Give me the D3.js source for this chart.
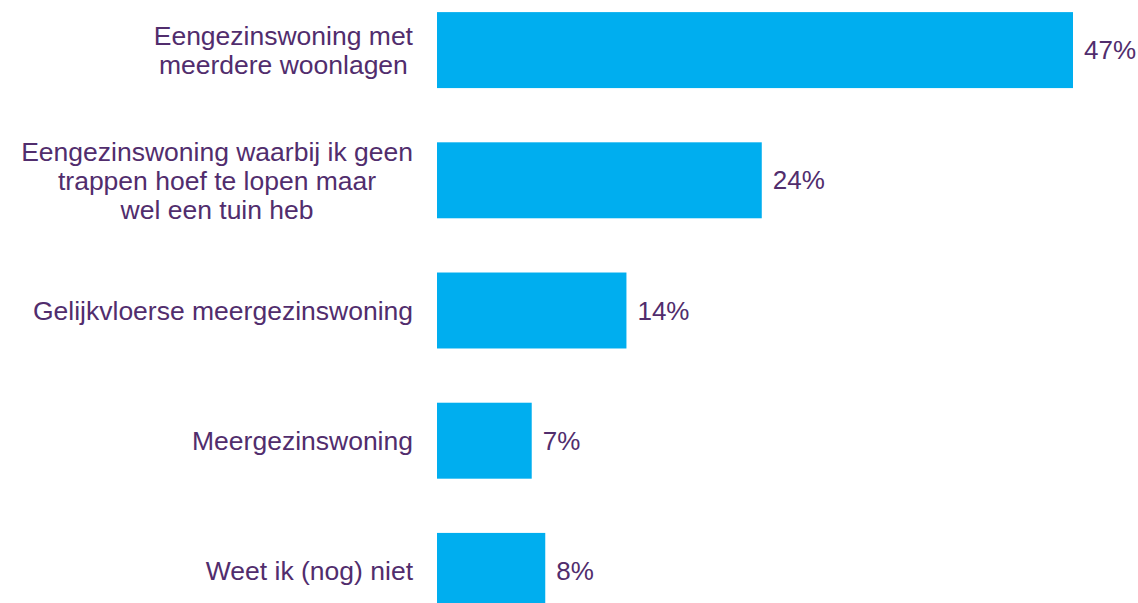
<!DOCTYPE html>
<html>
<head>
<meta charset="utf-8">
<script src="https://cdn.jsdelivr.net/npm/d3@7"></script>
<style>
  html, body { margin: 0; padding: 0; background: #ffffff; }
  svg { display: block; font-family: "Liberation Sans", Arial, sans-serif; }
</style>
</head>
<body>
<svg id="chart" width="1138" height="603"></svg>
<script>
// Woningvoorkeur: categories (each line of the label is its own entry) and shares in %
const categories = [
  ["Eengezinswoning met", "meerdere woonlagen"],
  ["Eengezinswoning waarbij ik geen", "trappen hoef te lopen maar", "wel een tuin heb"],
  ["Gelijkvloerse meergezinswoning"],
  ["Meergezinswoning"],
  ["Weet ik (nog) niet"]
];
const values = [47, 24, 14, 7, 8];
const valueLabels = ["47%", "24%", "14%", "7%", "8%"];

const barColor = "#00AEEF";
const textColor = "#512D6D";

const svg = d3.select("#chart");

const plotLeft = 437;
const labelRight = 413;

const keys = categories.map((c, i) => i);

const x = d3.scaleLinear()
  .domain([0, 47])
  .range([plotLeft, 1073]);

const y = d3.scaleBand()
  .domain(keys)
  .range([-15, 636])
  .paddingInner(0.4165)
  .paddingOuter(0.4165 / 2);

// Bars
svg.append("g")
  .selectAll("rect")
  .data(keys)
  .join("rect")
  .attr("x", x(0))
  .attr("y", i => y(i))
  .attr("width", i => x(values[i]) - x(0))
  .attr("height", y.bandwidth())
  .attr("fill", barColor);

// Value labels to the right of each bar
svg.append("g")
  .selectAll("text")
  .data(keys)
  .join("text")
  .attr("x", i => x(values[i]) + 11)
  .attr("y", i => y(i) + y.bandwidth() / 2 + 9)
  .attr("font-size", 26)
  .attr("fill", textColor)
  .text(i => valueLabels[i]);

// Category labels: lines centred on one another, block right-aligned against the bars
const lineHeight = 29;
const catG = svg.append("g").attr("font-size", 26.5).attr("fill", textColor);

keys.forEach(i => {
  const lines = categories[i];
  const cy = y(i) + y.bandwidth() / 2;
  const g = catG.append("g");
  const texts = g.selectAll("text")
    .data(lines)
    .join("text")
    .attr("text-anchor", "middle")
    .attr("y", (d, j) => cy + (j - (lines.length - 1) / 2) * lineHeight + 9.5)
    .text(d => d);
  const maxW = d3.max(texts.nodes(), n => n.getComputedTextLength());
  texts.attr("x", labelRight - maxW / 2);
});
</script>
</body>
</html>
